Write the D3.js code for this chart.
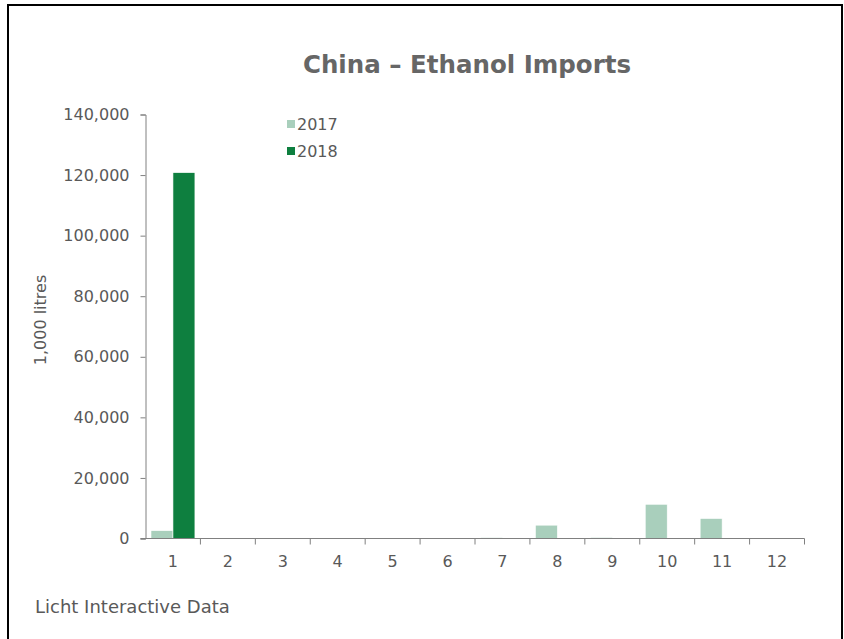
<!DOCTYPE html>
<html>
<head>
<meta charset="utf-8">
<script src="https://cdn.jsdelivr.net/npm/d3@7"></script>
<style>
  body { margin: 0; background: #fff; }
  text { font-family: "DejaVu Sans", Verdana, sans-serif; }
</style>
</head>
<body>
<div id="chart"></div>
<script>
const months = ["1", "2", "3", "4", "5", "6", "7", "8", "9", "10", "11", "12"];
const years = ["2017", "2018"];
const values2017 = [2600, 0, 0, 0, 0, 0, 300, 4400, 350, 11300, 6600, 0];
const values2018 = [120800, 0, 0, 0, 0, 0, 0, 0, 0, 0, 0, 0];
const yTicks = [0, 20000, 40000, 60000, 80000, 100000, 120000, 140000];
const colors = ["#a9cfbc", "#0e7f3f"];

const width = 844, height = 639;
const margin = { left: 145.5, right: 39.5, top: 114.5, bottom: 100.5 };

const svg = d3.select("#chart").append("svg")
    .attr("width", width)
    .attr("height", height);

// cadre
svg.append("rect")
    .attr("x", 8).attr("y", 5)
    .attr("width", 834).attr("height", 640)
    .attr("fill", "#fff")
    .attr("stroke", "#000")
    .attr("stroke-width", 2);

const x = d3.scaleBand()
    .domain(months)
    .range([margin.left, width - margin.right]);

const x1 = d3.scaleBand()
    .domain(years)
    .range([0, x.bandwidth()])
    .paddingOuter(0.25)
    .paddingInner(0);

const y = d3.scaleLinear()
    .domain([0, 140000])
    .range([height - margin.bottom, margin.top]);

const series = [values2017, values2018];

const gBars = svg.append("g");
years.forEach((yr, si) => {
    gBars.append("g")
        .selectAll("rect")
        .data(series[si].map((v, i) => ({ m: months[i], v })))
        .enter()
        .filter(d => d.v > 0)
        .append("rect")
        .attr("x", d => x(d.m) + x1(yr))
        .attr("width", x1.bandwidth())
        .attr("y", d => y(d.v))
        .attr("height", d => y(0) - y(d.v))
        .attr("fill", colors[si])
        .attr("stroke", "#fff")
        .attr("stroke-width", 0.6);
});

// axe Y
const yAxis = svg.append("g")
    .attr("transform", `translate(${margin.left},0)`)
    .call(d3.axisLeft(y).tickValues(yTicks).tickSize(5).tickPadding(11)
        .tickFormat(d3.format(",")));
yAxis.selectAll("path, line").attr("stroke", "#808080");
yAxis.selectAll("text")
    .attr("fill", "#595959")
    .style("font-size", "16px")
    .style("font-family", "'DejaVu Sans', Verdana, sans-serif");

// axe X
const xAxisG = svg.append("g")
    .attr("transform", `translate(0,${y(0)})`);
xAxisG.append("line")
    .attr("x1", margin.left - 5).attr("x2", width - margin.right)
    .attr("stroke", "#808080");
xAxisG.selectAll(".tick")
    .data(months.slice(1).concat(["end"]))
    .enter()
    .append("line")
    .attr("x1", (d, i) => i < 11 ? x(d) : x.range()[1])
    .attr("x2", (d, i) => i < 11 ? x(d) : x.range()[1])
    .attr("y1", 0).attr("y2", 6)
    .attr("stroke", "#808080");
xAxisG.selectAll(".lbl")
    .data(months)
    .enter()
    .append("text")
    .attr("x", d => x(d) + x.bandwidth() / 2)
    .attr("y", 28)
    .attr("text-anchor", "middle")
    .attr("fill", "#595959")
    .style("font-size", "16px")
    .text(d => d);

// titre
svg.append("text")
    .attr("x", 467)
    .attr("y", 73)
    .attr("text-anchor", "middle")
    .attr("fill", "#666")
    .style("font-size", "24.5px")
    .style("font-weight", "bold")
    .text("China – Ethanol Imports");

// libellé axe Y
svg.append("text")
    .attr("transform", "translate(46,320) rotate(-90)")
    .attr("text-anchor", "middle")
    .attr("fill", "#595959")
    .style("font-size", "16px")
    .text("1,000 litres");

// légende
const legend = svg.append("g").attr("transform", "translate(287,120)");
years.forEach((yr, i) => {
    const g = legend.append("g").attr("transform", `translate(0,${i * 27})`);
    g.append("rect").attr("width", 8).attr("height", 8).attr("fill", colors[i]);
    g.append("text")
        .attr("x", 10).attr("y", 10)
        .attr("fill", "#595959")
        .style("font-size", "16px")
        .text(yr);
});

// source
svg.append("text")
    .attr("x", 35).attr("y", 613)
    .attr("fill", "#595959")
    .style("font-size", "18px")
    .text("Licht Interactive Data");
</script>
</body>
</html>
